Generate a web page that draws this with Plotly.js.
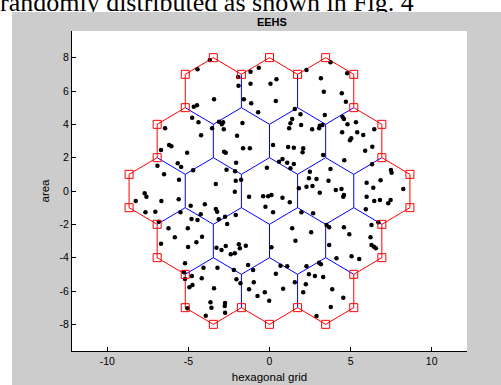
<!DOCTYPE html>
<html>
<head>
<meta charset="utf-8">
<script src="https://cdn.plot.ly/plotly-3.0.1.min.js"></script>
<style>
  html, body { margin:0; padding:0; background:#ffffff; }
  #wrap { position:relative; width:501px; height:385px; overflow:hidden; background:#ffffff; }
  #caption { position:absolute; left:0px; top:-10px; font-family:"Liberation Serif","Times New Roman",serif; font-size:26px; line-height:26px; color:#000; white-space:nowrap; z-index:1; }
  #chart { position:absolute; left:12px; top:12px; width:489px; height:373px; z-index:2; }
</style>
</head>
<body>
<div id="wrap">
  <div id="caption">randomly distributed as shown in Fig. 4</div>
  <div id="chart"></div>
</div>
<script>
// ---- data ----
const chartTitle = 'EEHS';
const xLabel = 'hexagonal grid';
const yLabel = 'area';

// hexagon cell centres (19 cells) and circumradius
const hexCx = [-3.464, 0, 3.464,
               -5.196, -1.732, 1.732, 5.196,
               -6.928, -3.464, 0, 3.464, 6.928,
               -5.196, -1.732, 1.732, 5.196,
               -3.464, 0, 3.464];
const hexCy = [6, 6, 6,
               3, 3, 3, 3,
               0, 0, 0, 0, 0,
               -3, -3, -3, -3,
               -6, -6, -6];
const hexRadius = 2;

// randomly distributed nodes
const dotX = [
 -3.68,-4.44,-1.93,-1.91,-1.17,-0.66,-1.17,-3.42,-1.58,-1.13,-4.47,-4.67,-0.70,-4.77,-4.38,-3.11,-2.86,-2.94,-2.82,-1.67,
 -6.44,-3.54,-4.22,-2.00,-6.19,-6.05,-6.69,-5.08,-2.80,-2.70,-1.63,-1.21,-2.06,-5.66,-5.45,-6.91,-4.71,-2.65,-2.12,-0.16,
 -6.50,-5.58,-3.31,-2.08,-1.75,
 0.06,0.43,0.39,2.28,3.76,3.17,4.79,3.35,4.46,4.71,1.56,1.91,1.40,1.29,1.95,1.21,3.41,2.63,3.10,3.27,
 3.06,4.50,4.59,5.33,4.81,4.48,5.41,5.04,4.96,5.78,6.46,0.22,1.15,1.50,2.08,2.04,3.31,5.90,6.34,0.80,
 0.59,1.09,1.50,1.29,2.49,2.43,2.90,3.64,3.76,4.61,6.32,5.99,6.85,7.49,7.53,
 -7.70,-7.59,-8.25,-6.67,-5.60,-7.65,-7.04,-2.14,-1.26,-0.39,-0.08,-0.25,-4.86,-3.99,-3.31,-3.23,-4.24,-5.49,-4.81,-4.44,
 -2.74,-2.08,-3.13,-2.61,-6.83,-6.23,-5.04,-4.16,-5.84,-4.51,-6.69,-5.02,-3.27,-2.96,-2.70,-1.89,-1.83,-1.46,-2.14,-2.39,
 -5.21,-4.07,-3.21,-2.20,-1.32,-1.01,-4.79,-5.27,-5.21,-4.18,-2.04,-1.79,-0.97,-4.75,-4.94,-3.42,-1.26,-0.29,-0.74,-0.02,
 -3.64,-3.58,-2.74,-2.76,-2.74,-5.06,-3.93,
 1.81,2.28,2.65,3.10,4.09,4.44,4.59,4.55,0.80,1.25,0.12,0.22,1.97,2.69,6.40,5.99,6.46,6.81,7.32,7.47,
 8.25,5.94,6.29,6.71,3.52,3.68,4.59,4.92,1.40,2.57,1.60,6.23,6.29,6.44,6.56,3.68,0.12,4.13,5.06,5.53,
 0.68,1.09,2.28,3.06,3.17,0.39,2.43,2.80,3.31,1.56,2.24,0.84,2.08,3.87,4.55,3.78,2.90
];
const dotY = [
 7.86,7.30,6.84,6.32,6.44,7.40,7.16,5.50,5.50,5.26,5.14,5.06,4.72,4.40,4.12,4.16,4.12,4.00,3.70,4.08,
 3.76,3.76,3.34,3.32,2.76,2.68,2.46,2.30,2.36,2.30,2.56,2.56,1.70,1.66,1.44,1.52,1.24,1.28,1.18,1.40,
 1.00,0.68,0.42,0.62,0.68,
 6.44,6.70,5.40,7.26,7.72,6.76,7.06,5.96,5.86,5.36,4.92,4.60,4.32,4.06,3.96,3.76,4.56,3.70,3.92,3.96,
 3.76,4.46,4.32,4.12,4.00,3.52,3.52,3.16,3.04,3.36,3.70,2.76,2.64,2.60,2.56,2.32,2.16,2.42,2.66,1.92,
 1.76,1.70,1.62,1.36,1.16,0.76,0.72,0.62,1.32,1.84,1.60,0.50,0.64,1.26,1.10,
 -0.14,-0.34,-0.60,-0.60,-0.50,-1.28,-1.24,-0.04,-0.34,-0.32,-0.32,-0.94,-0.88,-0.80,-1.08,-1.24,-1.40,-1.28,-1.68,-1.74,
 -1.54,-1.44,-1.70,-1.98,-1.84,-2.24,-2.24,-2.74,-2.78,-3.08,-3.16,-3.36,-3.40,-3.54,-3.30,-3.20,-3.44,-3.28,-3.74,-3.80,
 -4.34,-4.60,-4.60,-4.74,-4.44,-4.74,-5.10,-4.88,-5.28,-5.24,-5.30,-5.54,-5.48,-5.64,-5.78,-5.84,-5.90,-6.08,-6.30,-6.58,
 -6.68,-7.00,-6.72,-6.90,-7.30,-7.04,-7.48,
 0.16,0.26,0.30,-0.10,0.06,0.12,-0.24,-0.34,-0.40,-0.68,-0.24,-1.28,-1.28,-1.34,0.20,-0.34,-0.60,-0.54,-0.74,-0.54,
 0.12,-1.10,-2.04,-1.88,-2.04,-2.18,-2.18,-2.60,-2.24,-2.48,-2.98,-2.78,-3.24,-3.34,-3.44,-3.24,-3.38,-4.04,-3.92,-4.08,
 -4.48,-4.52,-4.52,-4.30,-4.40,-4.96,-5.00,-5.10,-5.16,-5.48,-5.60,-5.86,-6.08,-5.90,-6.40,-6.96,-7.50
];

const xTickVals = [-10, -5, 0, 5, 10];
const xTickText = ['-10', '-5', '0', '5', '10'];
const yTickVals = [-8, -6, -4, -2, 0, 2, 4, 6, 8];
const yTickText = ['-8', '-6', '-4', '-2', '0', '2', '4', '6', '8'];

// ---- geometry of the hexagon grid ----
const keyOf = p => String(Math.round(p[0] * 100) + 0) + ',' + String(Math.round(p[1] * 100) + 0);
const edges = {};
for (let i = 0; i < hexCx.length; i++) {
  const v = [];
  for (let k = 0; k < 6; k++) {
    const a = Math.PI / 6 + k * Math.PI / 3;
    v.push([hexCx[i] + hexRadius * Math.cos(a), hexCy[i] + hexRadius * Math.sin(a)]);
  }
  for (let k = 0; k < 6; k++) {
    const p = v[k], q = v[(k + 1) % 6];
    const kp = keyOf(p), kq = keyOf(q);
    const key = kp < kq ? kp + '|' + kq : kq + '|' + kp;
    if (!edges[key]) edges[key] = { p: p, q: q, n: 0 };
    edges[key].n++;
  }
}
const innerX = [], innerY = [], outerX = [], outerY = [];
const bVerts = {};
Object.values(edges).forEach(e => {
  if (e.n > 1) {
    innerX.push(e.p[0], e.q[0], null); innerY.push(e.p[1], e.q[1], null);
  } else {
    outerX.push(e.p[0], e.q[0], null); outerY.push(e.p[1], e.q[1], null);
    bVerts[keyOf(e.p)] = e.p; bVerts[keyOf(e.q)] = e.q;
  }
});
const bvX = Object.values(bVerts).map(p => p[0]);
const bvY = Object.values(bVerts).map(p => p[1]);

const traces = [
  { type: 'scatter', mode: 'lines', x: innerX, y: innerY, line: { color: '#0000ff', width: 1 }, hoverinfo: 'skip' },
  { type: 'scatter', mode: 'lines', x: outerX, y: outerY, line: { color: '#ff0000', width: 1 }, hoverinfo: 'skip' },
  { type: 'scatter', mode: 'markers', x: dotX, y: dotY, marker: { color: '#000000', size: 4.5, symbol: 'circle' } },
  { type: 'scatter', mode: 'markers', x: bvX, y: bvY, marker: { color: '#ff0000', size: 8, symbol: 'square-open', line: { color: '#ff0000', width: 1 } } }
];

const tickFont = { family: 'Liberation Sans, Arial, sans-serif', size: 10.5, color: '#000000' };
const labFont = { family: 'Liberation Sans, Arial, sans-serif', size: 11.5, color: '#000000' };

const layout = {
  width: 489, height: 373,
  margin: { l: 60, r: 34, t: 19, b: 34 },
  paper_bgcolor: '#cccccc', plot_bgcolor: '#ffffff',
  showlegend: false,
  title: { text: '<b>' + chartTitle + '</b>', font: { family: 'Liberation Sans, Arial, sans-serif', size: 11, color: '#000000' },
           x: 0.506, xref: 'paper', xanchor: 'center', y: 1 - 10 / 373, yref: 'container', yanchor: 'middle' },
  xaxis: {
    range: [-12.18, 12.18], tickmode: 'array', tickvals: xTickVals, ticktext: xTickText,
    ticks: 'inside', ticklen: 4, tickcolor: '#000000', tickwidth: 1,
    showline: true, linecolor: '#000000', linewidth: 1, mirror: false,
    showgrid: false, zeroline: false, tickfont: tickFont,
    title: { text: xLabel, font: labFont, standoff: 7 }
  },
  yaxis: {
    range: [-9.6, 9.6], tickmode: 'array', tickvals: yTickVals, ticktext: yTickText,
    ticks: 'inside', ticklen: 4, tickcolor: '#000000', tickwidth: 1,
    showline: true, linecolor: '#000000', linewidth: 1, mirror: false,
    showgrid: false, zeroline: false, tickfont: tickFont,
    title: { text: yLabel, font: labFont, standoff: 7 }
  }
};

Plotly.newPlot('chart', traces, layout, { displayModeBar: false, staticPlot: true });
</script>
</body>
</html>
